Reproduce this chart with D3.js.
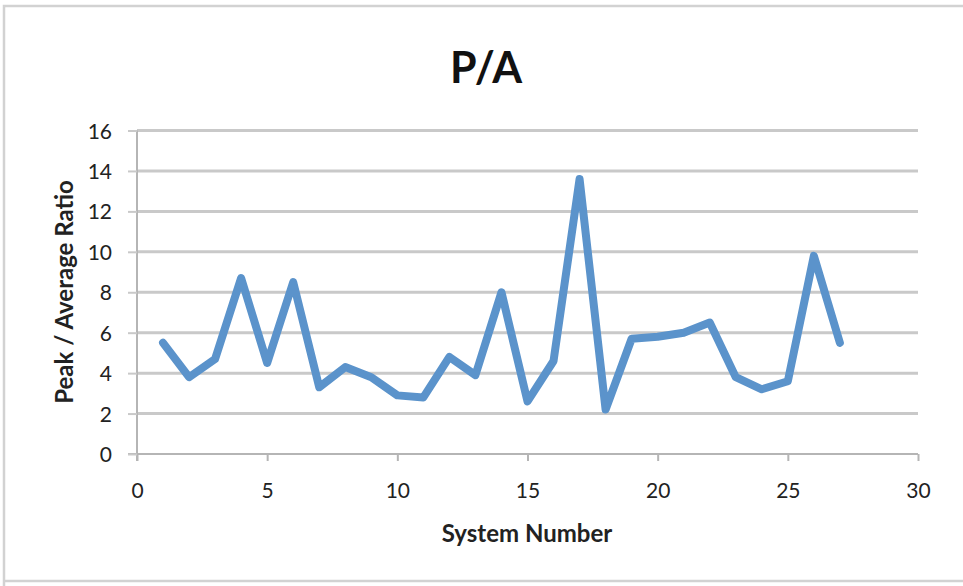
<!DOCTYPE html>
<html><head><meta charset="utf-8">
<script src="https://cdn.jsdelivr.net/npm/d3@7"></script>
<style>html,body{margin:0;padding:0;background:#fff;}svg{display:block;}</style>
</head><body>
<svg id="c" width="963" height="586"></svg>
<script>
const systemNumbers = [1,2,3,4,5,6,7,8,9,10,11,12,13,14,15,16,17,18,19,20,21,22,23,24,25,26,27];
const ratios = [5.5,3.8,4.7,8.7,4.5,8.5,3.3,4.3,3.8,2.9,2.8,4.8,3.9,8.0,2.6,4.6,13.6,2.2,5.7,5.8,6.0,6.5,3.8,3.2,3.6,9.8,5.5];
const xTicks = [0,5,10,15,20,25,30];
const yTicks = [0,2,4,6,8,10,12,14,16];
const title = "P/A";
const xTitle = "System Number";
const yTitle = "Peak / Average Ratio";

const svg = d3.select("#c");
const font = "Lato, 'Open Sans', sans-serif";
const L = 137, R = 918, T = 130.5, B = 454;
const x = d3.scaleLinear().domain([0,30]).range([L,R]);
const y = d3.scaleLinear().domain([0,16]).range([B,T]);

// outer frame
svg.append("path").attr("d","M4,587 L4,6 L964,6").attr("fill","none").attr("stroke","#d2d2d2").attr("stroke-width",2.5);
svg.append("line").attr("x1",4).attr("x2",963).attr("y1",581).attr("y2",581).attr("stroke","#d2d2d2").attr("stroke-width",2.5);

// gridlines
svg.append("g").selectAll("line").data(yTicks.filter(d=>d>0)).join("line")
  .attr("x1",L).attr("x2",R).attr("y1",d=>y(d)).attr("y2",d=>y(d))
  .attr("stroke","#c9c9c9").attr("stroke-width",3);

// axes
const xAxis = d3.axisBottom(x).tickValues(xTicks).tickSize(7);
const gx = svg.append("g").attr("transform",`translate(0,${B})`).call(xAxis);
gx.select(".domain").attr("stroke","#b5b5b5").attr("stroke-width",2).attr("d",`M${L-9},0H${R}`);
gx.selectAll(".tick line").attr("stroke","#b5b5b5").attr("stroke-width",2);
gx.selectAll("text").attr("y",44).attr("dy",0).attr("font-family",font).attr("font-size",21).attr("fill","#222");

const yAxis = d3.axisLeft(y).tickValues(yTicks).tickSize(9).tickPadding(16);
const gy = svg.append("g").attr("transform",`translate(${L},0)`).call(yAxis);
gy.select(".domain").attr("stroke","#b5b5b5").attr("stroke-width",2).attr("d",`M0,${T}V${B+7}`);
gy.selectAll(".tick line").attr("stroke","#c9c9c9").attr("stroke-width",2);
gy.selectAll("text").attr("dy","0.36em").attr("font-family",font).attr("font-size",21).attr("fill","#222");

// line
const line = d3.line().x((d,i)=>x(systemNumbers[i])).y(d=>y(d));
svg.append("path").datum(ratios).attr("d",line).attr("fill","none")
  .attr("stroke","#5b93cb").attr("stroke-width",8).attr("stroke-linejoin","round").attr("stroke-linecap","round");

// titles
svg.append("text").attr("x",486).attr("y",83).attr("text-anchor","middle")
  .attr("font-family",font).attr("font-weight","bold").attr("font-size",43).attr("fill","#111").text(title);
svg.append("text").attr("x",527).attr("y",542).attr("text-anchor","middle")
  .attr("font-family",font).attr("font-weight","bold").attr("font-size",24).attr("fill","#222").text(xTitle);
svg.append("text").attr("transform",`translate(73,292) rotate(-90)`).attr("text-anchor","middle")
  .attr("font-family",font).attr("font-weight","bold").attr("font-size",24).attr("fill","#222").text(yTitle);
</script>
</body></html>
